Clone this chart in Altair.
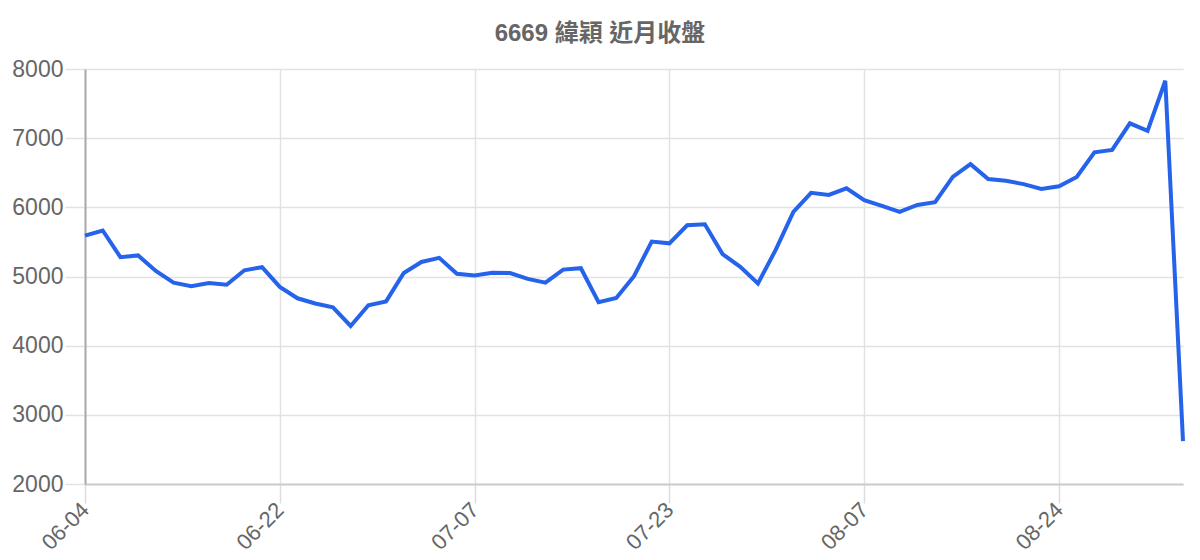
import altair as alt
import pandas as pd

title_text = "6669 緯穎 近月收盤"
closes = [5590, 5665, 5280, 5305, 5080, 4910, 4860, 4905, 4880, 5090,
          5135, 4850, 4685, 4610, 4555, 4285, 4585, 4640, 5050, 5210,
          5270, 5040, 5015, 5055, 5050, 4965, 4910, 5100, 5120, 4630,
          4690, 5005, 5505, 5480, 5740, 5755, 5325, 5140, 4900, 5385,
          5935, 6210, 6180, 6275, 6105, 6020, 5935, 6035, 6075, 6440,
          6625, 6410, 6385, 6335, 6265, 6305, 6440, 6795, 6830, 7215,
          7105, 7830, 2620]
tick_labels = ["06-04", "06-22", "07-07", "07-23", "08-07", "08-24"]
tick_step = 11
y_ticks = [2000, 3000, 4000, 5000, 6000, 7000, 8000]

df = pd.DataFrame({"idx": list(range(len(closes))), "close": closes})
tick_positions = [i * tick_step for i in range(len(tick_labels))]
label_expr = "[" + ",".join("'%s'" % t for t in tick_labels) + "][round(datum.value/%d)]" % tick_step

FONT = "Liberation Sans, Arial, Noto Sans CJK TC, sans-serif"

chart = alt.Chart(df).mark_line(color="#2563eb", strokeWidth=4, strokeJoin="miter").encode(
    x=alt.X("idx:Q",
            scale=alt.Scale(domain=[0, len(closes) - 1], nice=False, zero=False),
            axis=alt.Axis(values=tick_positions, labelExpr=label_expr, title=None,
                          labelAngle=-45, labelAlign="right", labelBaseline="middle",
                          labelFontSize=22, labelColor="#666666", labelFont=FONT,
                          tickSize=19, tickColor="#dddddd", tickWidth=1.5,
                          gridColor="#e2e2e2", gridWidth=1.5,
                          domainColor="#cccccc", domainWidth=2,
                          labelPadding=3, labelOverlap=False)),
    y=alt.Y("close:Q",
            scale=alt.Scale(domain=[2000, 8000], nice=False, zero=False),
            axis=alt.Axis(values=y_ticks, title=None, format="d",
                          labelFontSize=23, labelColor="#666666", labelFont=FONT,
                          tickSize=20, tickColor="#e2e2e2", tickWidth=1.5,
                          gridColor="#e2e2e2", gridWidth=1.5,
                          domainColor="#aaaaaa", domainWidth=2,
                          labelPadding=2)),
).properties(
    width=1098, height=415,
    title=alt.TitleParams(title_text, font="Liberation Sans, Noto Sans CJK TC, sans-serif",
                          fontSize=24, fontWeight="bold", color="#666666",
                          anchor="middle", frame="group", dx=-34, dy=32,
                          baseline="alphabetic", offset=25),
    autosize=alt.AutoSizeParams(type="none"),
    padding={"left": 77, "top": 61, "right": 9, "bottom": 72},
).configure_view(stroke=None)

chart.save("out.html", embed_options={"renderer": "svg", "actions": False})
